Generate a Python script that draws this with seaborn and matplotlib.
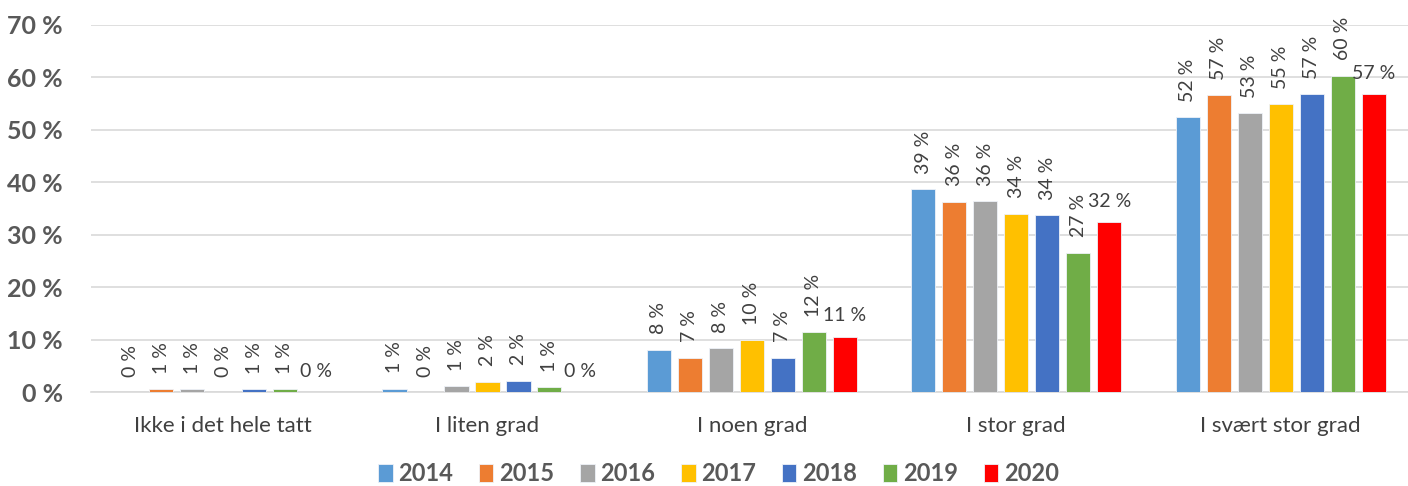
import matplotlib
matplotlib.use("Agg")
import matplotlib.pyplot as plt
import seaborn as sns
import pandas as pd

kategorier = ["Ikke i det hele tatt", "I liten grad", "I noen grad", "I stor grad", "I svært stor grad"]
aar = ["2014", "2015", "2016", "2017", "2018", "2019", "2020"]
verdier = {
    "2014": [0.0, 0.7, 8.1, 38.7, 52.4],
    "2015": [0.55, 0.0, 6.6, 36.3, 56.6],
    "2016": [0.6, 1.2, 8.4, 36.4, 53.2],
    "2017": [0.0, 2.0, 9.9, 34.0, 54.9],
    "2018": [0.55, 2.2, 6.6, 33.8, 56.8],
    "2019": [0.55, 1.0, 11.5, 26.6, 60.3],
    "2020": [0.0, 0.0, 10.6, 32.4, 56.8],
}
farger = ["#5B9BD5", "#ED7D31", "#A5A5A5", "#FFC000", "#4472C4", "#70AD47", "#FF0000"]

rader = []
for a in aar:
    for k, v in zip(kategorier, verdier[a]):
        rader.append({"kategori": k, "år": a, "andel": v})
df = pd.DataFrame(rader)

sns.set_style("white")
plt.rcParams["font.family"] = ["Lato", "DejaVu Sans"]

fig = plt.figure(figsize=(14.08, 4.86), dpi=100)
ax = fig.add_axes([0.0645, 0.193, 0.939, 0.756])

sns.barplot(data=df, x="kategori", y="andel", hue="år", order=kategorier, hue_order=aar,
            palette=farger, width=0.82, gap=0.22, saturation=1, ax=ax,
            edgecolor="#eef2f8", linewidth=0.6, zorder=3)

for i, cont in enumerate(ax.containers):
    etiketter = [f"{v:.0f} %" for v in verdier[aar[i]]]
    if i == len(aar) - 1:
        ax.bar_label(cont, labels=etiketter, padding=9, fontsize=14, color="#404040")
    else:
        ax.bar_label(cont, labels=etiketter, padding=11, fontsize=14, color="#404040", rotation=90)

ax.set_ylim(0, 70)
ax.set_xlim(-0.5, 4.5)
ax.set_yticks(range(0, 71, 10))
ax.set_yticklabels([f"{t} %" for t in range(0, 71, 10)], fontsize=18, fontweight="bold", color="#595959")
ax.tick_params(axis="x", labelsize=16, labelcolor="#404040", length=0, pad=17)
ax.tick_params(axis="y", length=0, pad=20)
ax.grid(axis="y", color="#d9d9d9", linewidth=1.2, zorder=0)
ax.set_axisbelow(True)
for s in ["top", "right", "left"]:
    ax.spines[s].set_visible(False)
ax.spines["bottom"].set_color("#d9d9d9")
ax.spines["bottom"].set_linewidth(1.2)
ax.set_xlabel("")
ax.set_ylabel("")

ax.legend(loc="center", bbox_to_anchor=(0.475, -0.222), ncol=7, frameon=False,
          prop={"size": 17, "weight": "bold"}, labelcolor="#595959",
          handlelength=0.6, handleheight=0.75, handletextpad=0.25, columnspacing=1.1)

fig.savefig("out.png", dpi=100)
